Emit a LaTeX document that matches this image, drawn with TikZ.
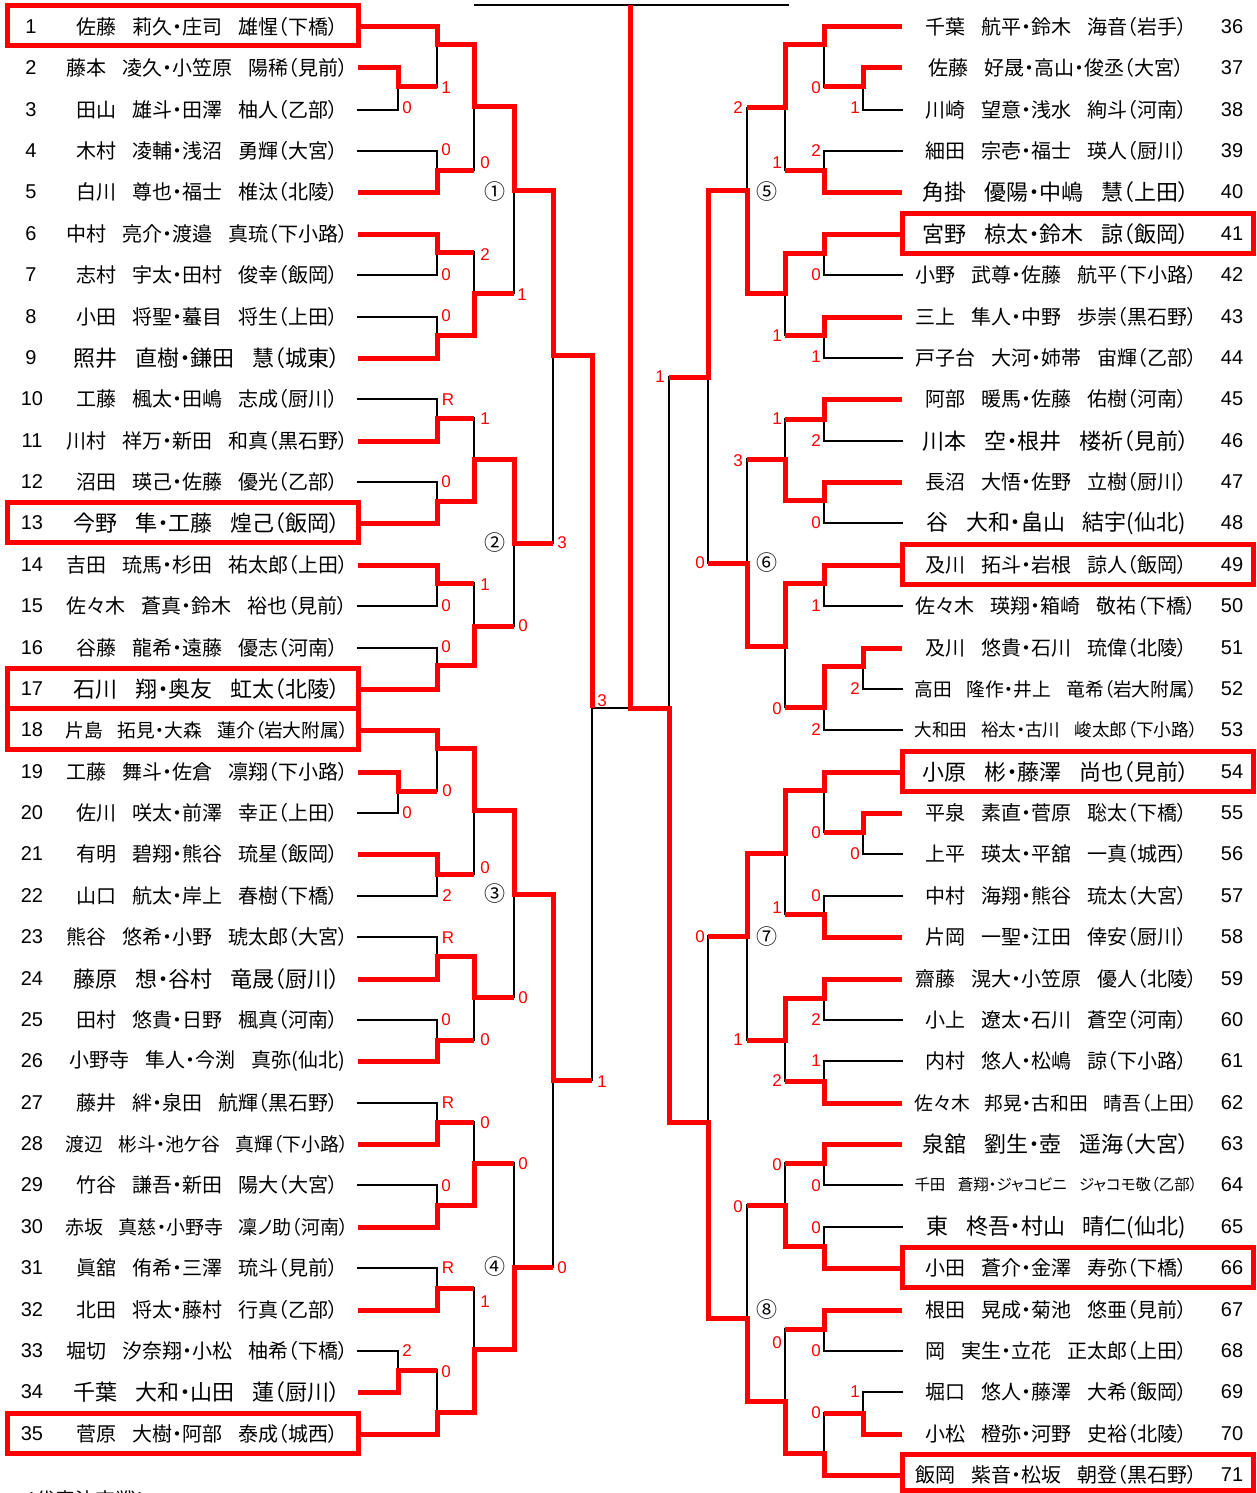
\documentclass[tikz,border=0pt]{standalone}
\usepackage{fontspec}
\usepackage{graphicx}
\usepackage{tikz}
\newfontfamily\jp[RawFeature=+palt]{Noto Sans CJK JP}
\newfontfamily\numfont{Liberation Sans}
\begingroup\lccode`\~="3000\lowercase{\endgroup\def~{\hspace{0.8em}}}
\catcode"3000=\active
\newsavebox\pairbox
\newcommand\fitpair[1]{\sbox\pairbox{#1}%
  \ifdim\wd\pairbox>285pt\resizebox{283pt}{!}{\usebox\pairbox}%
  \else\ifdim\wd\pairbox<250pt\scalebox{1.1}{\usebox\pairbox}%
  \else\usebox\pairbox\fi\fi}
\begin{document}
\begin{tikzpicture}[x=1pt,y=-1pt,
  won/.style={red,line width=5pt},
  lost/.style={black,line width=2.6pt,line cap=rect},
  seedbox/.style={red,line width=5pt},
  pair/.style={font=\jp\fontsize{20}{24}\selectfont,inner sep=0pt},
  num/.style={font=\numfont\fontsize{20}{24}\selectfont,inner sep=0pt},
  score/.style={text=red,font=\numfont\fontsize{17}{20}\selectfont,inner sep=0pt},
  block/.style={font=\jp\fontsize{21}{24}\selectfont,inner sep=0pt}]
\useasboundingbox (0,0) rectangle (1257,1493);
% black lines
\draw[lost] (475,5) -- (788,5);
\draw[lost] (398,68) -- (398,110) (398,772) -- (398,813) (398,1351) -- (398,1392);
\draw[lost] (437,27) -- (437,87) (437,151) -- (437,192) (437,234) -- (437,275) (437,317) -- (437,358)
  (437,399) -- (437,441) (437,482) -- (437,523) (437,565) -- (437,606) (437,648) -- (437,689)
  (437,730) -- (437,791) (437,854) -- (437,896) (437,937) -- (437,979) (437,1020) -- (437,1061)
  (437,1103) -- (437,1144) (437,1185) -- (437,1227) (437,1268) -- (437,1310) (437,1370) -- (437,1434);
\draw[lost] (474,45) -- (474,170) (474,252) -- (474,335) (474,418) -- (474,501) (474,583) -- (474,665)
  (474,748) -- (474,874) (474,956) -- (474,1040) (474,1122) -- (474,1205) (474,1288) -- (474,1412);
\draw[lost] (514,107) -- (514,293) (514,459) -- (514,626) (514,810) -- (514,997) (514,1163) -- (514,1349);
\draw[lost] (553,190) -- (553,543) (553,894) -- (553,1267);
\draw[lost] (592,355) -- (592,1080) (592,708) -- (630,708);
\draw[lost] (863,68) -- (863,110) (863,648) -- (863,689) (863,813) -- (863,854) (863,1392) -- (863,1434);
\draw[lost] (824,27) -- (824,87) (824,151) -- (824,192) (824,234) -- (824,275) (824,317) -- (824,358)
  (824,399) -- (824,441) (824,482) -- (824,523) (824,565) -- (824,606) (824,666) -- (824,730)
  (824,772) -- (824,832) (824,896) -- (824,937) (824,979) -- (824,1020) (824,1061) -- (824,1103)
  (824,1144) -- (824,1185) (824,1227) -- (824,1268) (824,1310) -- (824,1351) (824,1413) -- (824,1475);
\draw[lost] (785,45) -- (785,170) (785,253) -- (785,335) (785,419) -- (785,500) (785,583) -- (785,707)
  (785,790) -- (785,914) (785,998) -- (785,1081) (785,1163) -- (785,1246) (785,1329) -- (785,1453);
\draw[lost] (747,108) -- (747,293) (747,459) -- (747,646) (747,853) -- (747,1040) (747,1205) -- (747,1401);
\draw[lost] (708,190) -- (708,563) (708,936) -- (708,1318);
\draw[lost] (669,377) -- (669,1122);
\draw[lost] (358,110) -- (398,110) (358,151) -- (437,151) (358,275) -- (437,275) (358,317) -- (437,317)
  (358,399) -- (437,399) (358,482) -- (437,482) (358,606) -- (437,606) (358,648) -- (437,648)
  (358,813) -- (398,813) (358,896) -- (437,896) (358,937) -- (437,937) (358,1020) -- (437,1020)
  (358,1103) -- (437,1103) (358,1185) -- (437,1185) (358,1268) -- (437,1268) (358,1351) -- (398,1351);
\draw[lost] (902,110) -- (863,110) (902,151) -- (824,151) (902,275) -- (824,275) (902,358) -- (824,358)
  (902,441) -- (824,441) (902,523) -- (824,523) (902,606) -- (824,606) (902,689) -- (863,689)
  (902,730) -- (824,730) (902,854) -- (863,854) (902,896) -- (824,896) (902,1020) -- (824,1020)
  (902,1061) -- (824,1061) (902,1185) -- (824,1185) (902,1227) -- (824,1227) (902,1351) -- (824,1351)
  (902,1392) -- (863,1392);
% winners
\draw[won] (358,27) -| (437,45) -| (474,107) -| (514,190) -| (553,355) -| (592,708);
\draw[won] (358,68) -| (398,87) -- (437,87);
\draw[won] (358,192) -| (437,170) -- (474,170);
\draw[won] (358,234) -| (437,252) -- (474,252);
\draw[won] (358,358) -| (437,335) -| (474,293) -- (514,293);
\draw[won] (358,441) -| (437,418) -- (474,418);
\draw[won] (358,523) -| (437,501) -| (474,459) -| (514,543) -- (553,543);
\draw[won] (358,565) -| (437,583) -- (474,583);
\draw[won] (358,689) -| (437,665) -| (474,626) -- (514,626);
\draw[won] (358,730) -| (437,748) -| (474,810) -| (514,894) -| (553,1080) -- (592,1080);
\draw[won] (358,772) -| (398,791) -- (437,791);
\draw[won] (358,854) -| (437,874) -- (474,874);
\draw[won] (358,979) -| (437,956) -| (474,997) -- (514,997);
\draw[won] (358,1061) -| (437,1040) -- (474,1040);
\draw[won] (358,1144) -| (437,1122) -- (474,1122);
\draw[won] (358,1227) -| (437,1205) -| (474,1163) -- (514,1163);
\draw[won] (358,1310) -| (437,1288) -- (474,1288);
\draw[won] (358,1392) -| (398,1370) -- (437,1370);
\draw[won] (358,1434) -| (437,1412) -| (474,1349) -| (514,1267) -- (553,1267);
\draw[won] (902,27) -| (824,45) -| (785,108) -- (747,108);
\draw[won] (902,68) -| (863,87) -- (824,87);
\draw[won] (902,192) -| (824,170) -- (785,170);
\draw[won] (902,234) -| (824,253) -| (785,293) -| (747,190) -| (708,377) -- (669,377);
\draw[won] (902,317) -| (824,335) -- (785,335);
\draw[won] (902,399) -| (824,419) -- (785,419);
\draw[won] (902,482) -| (824,500) -| (785,459) -- (747,459);
\draw[won] (902,565) -| (824,583) -| (785,646) -| (747,563) -- (708,563);
\draw[won] (902,648) -| (863,666) -| (824,707) -- (785,707);
\draw[won] (902,772) -| (824,790) -| (785,853) -| (747,936) -- (708,936);
\draw[won] (902,813) -| (863,832) -- (824,832);
\draw[won] (902,937) -| (824,914) -- (785,914);
\draw[won] (902,979) -| (824,998) -| (785,1040) -- (747,1040);
\draw[won] (902,1103) -| (824,1081) -- (785,1081);
\draw[won] (902,1144) -| (824,1163) -- (785,1163);
\draw[won] (902,1268) -| (824,1246) -| (785,1205) -- (747,1205);
\draw[won] (902,1310) -| (824,1329) -- (785,1329);
\draw[won] (902,1434) -| (863,1413) -- (824,1413);
\draw[won] (902,1475) -| (824,1453) -| (785,1401) -| (747,1318) -| (708,1122) -| (669,708) -| (630,5);
% seeds
\draw[seedbox] (7,6) rectangle (358,46);
\draw[seedbox] (7,502) rectangle (358,542);
\draw[seedbox] (7,668) rectangle (358,708);
\draw[seedbox] (7,708) rectangle (358,749);
\draw[seedbox] (7,1413) rectangle (358,1453);
\draw[seedbox] (902,213) rectangle (1253,253);
\draw[seedbox] (902,544) rectangle (1253,584);
\draw[seedbox] (902,751) rectangle (1253,791);
\draw[seedbox] (902,1247) rectangle (1253,1287);
\draw[seedbox] (902,1454) rectangle (1253,1490);
% left entries
\node (k1) [num] at (31,27) {1};
\node (k2) [num] at (31,68) {2};
\node (k3) [num] at (31,110) {3};
\node (k4) [num] at (31,151) {4};
\node (k5) [num] at (31,192) {5};
\node (k6) [num] at (31,234) {6};
\node (k7) [num] at (31,275) {7};
\node (k8) [num] at (31,317) {8};
\node (k9) [num] at (31,358) {9};
\node (k10) [num] at (32,399) {10};
\node (k11) [num] at (32,441) {11};
\node (k12) [num] at (32,482) {12};
\node (k13) [num] at (32,523) {13};
\node (k14) [num] at (32,565) {14};
\node (k15) [num] at (32,606) {15};
\node (k16) [num] at (32,648) {16};
\node (k17) [num] at (32,689) {17};
\node (k18) [num] at (32,730) {18};
\node (k19) [num] at (32,772) {19};
\node (k20) [num] at (32,813) {20};
\node (k21) [num] at (32,854) {21};
\node (k22) [num] at (32,896) {22};
\node (k23) [num] at (32,937) {23};
\node (k24) [num] at (32,979) {24};
\node (k25) [num] at (32,1020) {25};
\node (k26) [num] at (32,1061) {26};
\node (k27) [num] at (32,1103) {27};
\node (k28) [num] at (32,1144) {28};
\node (k29) [num] at (32,1185) {29};
\node (k30) [num] at (32,1227) {30};
\node (k31) [num] at (32,1268) {31};
\node (k32) [num] at (32,1310) {32};
\node (k33) [num] at (32,1351) {33};
\node (k34) [num] at (32,1392) {34};
\node (k35) [num] at (32,1434) {35};
\node (p1) [pair] at (207,27) {\fitpair{佐藤　莉久・庄司　雄惺（下橋）}};
\node (p2) [pair] at (207,68) {\fitpair{藤本　凌久・小笠原　陽稀（見前）}};
\node (p3) [pair] at (207,110) {\fitpair{田山　雄斗・田澤　柚人（乙部）}};
\node (p4) [pair] at (207,151) {\fitpair{木村　凌輔・浅沼　勇輝（大宮）}};
\node (p5) [pair] at (207,192) {\fitpair{白川　尊也・福士　椎汰（北陵）}};
\node (p6) [pair] at (207,234) {\fitpair{中村　亮介・渡邉　真琉（下小路）}};
\node (p7) [pair] at (207,275) {\fitpair{志村　宇太・田村　俊幸（飯岡）}};
\node (p8) [pair] at (207,317) {\fitpair{小田　将聖・蟇目　将生（上田）}};
\node (p9) [pair] at (207,358) {\fitpair{照井　直樹・鎌田　慧（城東）}};
\node (p10) [pair] at (207,399) {\fitpair{工藤　楓太・田嶋　志成（厨川）}};
\node (p11) [pair] at (207,441) {\fitpair{川村　祥万・新田　和真（黒石野）}};
\node (p12) [pair] at (207,482) {\fitpair{沼田　瑛己・佐藤　優光（乙部）}};
\node (p13) [pair] at (207,523) {\fitpair{今野　隼・工藤　煌己（飯岡）}};
\node (p14) [pair] at (207,565) {\fitpair{吉田　琉馬・杉田　祐太郎（上田）}};
\node (p15) [pair] at (207,606) {\fitpair{佐々木　蒼真・鈴木　裕也（見前）}};
\node (p16) [pair] at (207,648) {\fitpair{谷藤　龍希・遠藤　優志（河南）}};
\node (p17) [pair] at (207,689) {\fitpair{石川　翔・奥友　虹太（北陵）}};
\node (p18) [pair] at (207,730) {\fitpair{片島　拓見・大森　蓮介（岩大附属）}};
\node (p19) [pair] at (207,772) {\fitpair{工藤　舞斗・佐倉　凛翔（下小路）}};
\node (p20) [pair] at (207,813) {\fitpair{佐川　咲太・前澤　幸正（上田）}};
\node (p21) [pair] at (207,854) {\fitpair{有明　碧翔・熊谷　琉星（飯岡）}};
\node (p22) [pair] at (207,896) {\fitpair{山口　航太・岸上　春樹（下橋）}};
\node (p23) [pair] at (207,937) {\fitpair{熊谷　悠希・小野　琥太郎（大宮）}};
\node (p24) [pair] at (207,979) {\fitpair{藤原　想・谷村　竜晟（厨川）}};
\node (p25) [pair] at (207,1020) {\fitpair{田村　悠貴・日野　楓真（河南）}};
\node (p26) [pair] at (207,1061) {\fitpair{小野寺　隼人・今渕　真弥(仙北)}};
\node (p27) [pair] at (207,1103) {\fitpair{藤井　絆・泉田　航輝（黒石野）}};
\node (p28) [pair] at (207,1144) {\fitpair{渡辺　彬斗・池ケ谷　真輝（下小路）}};
\node (p29) [pair] at (207,1185) {\fitpair{竹谷　謙吾・新田　陽大（大宮）}};
\node (p30) [pair] at (207,1227) {\fitpair{赤坂　真慈・小野寺　凜ノ助（河南）}};
\node (p31) [pair] at (207,1268) {\fitpair{眞舘　侑希・三澤　琉斗（見前）}};
\node (p32) [pair] at (207,1310) {\fitpair{北田　将太・藤村　行真（乙部）}};
\node (p33) [pair] at (207,1351) {\fitpair{堀切　汐奈翔・小松　柚希（下橋）}};
\node (p34) [pair] at (207,1392) {\fitpair{千葉　大和・山田　蓮（厨川）}};
\node (p35) [pair] at (207,1434) {\fitpair{菅原　大樹・阿部　泰成（城西）}};
% right entries
\node (k36) [num] at (1232,27) {36};
\node (k37) [num] at (1232,68) {37};
\node (k38) [num] at (1232,110) {38};
\node (k39) [num] at (1232,151) {39};
\node (k40) [num] at (1232,192) {40};
\node (k41) [num] at (1232,234) {41};
\node (k42) [num] at (1232,275) {42};
\node (k43) [num] at (1232,317) {43};
\node (k44) [num] at (1232,358) {44};
\node (k45) [num] at (1232,399) {45};
\node (k46) [num] at (1232,441) {46};
\node (k47) [num] at (1232,482) {47};
\node (k48) [num] at (1232,523) {48};
\node (k49) [num] at (1232,565) {49};
\node (k50) [num] at (1232,606) {50};
\node (k51) [num] at (1232,648) {51};
\node (k52) [num] at (1232,689) {52};
\node (k53) [num] at (1232,730) {53};
\node (k54) [num] at (1232,772) {54};
\node (k55) [num] at (1232,813) {55};
\node (k56) [num] at (1232,854) {56};
\node (k57) [num] at (1232,896) {57};
\node (k58) [num] at (1232,937) {58};
\node (k59) [num] at (1232,979) {59};
\node (k60) [num] at (1232,1020) {60};
\node (k61) [num] at (1232,1061) {61};
\node (k62) [num] at (1232,1103) {62};
\node (k63) [num] at (1232,1144) {63};
\node (k64) [num] at (1232,1185) {64};
\node (k65) [num] at (1232,1227) {65};
\node (k66) [num] at (1232,1268) {66};
\node (k67) [num] at (1232,1310) {67};
\node (k68) [num] at (1232,1351) {68};
\node (k69) [num] at (1232,1392) {69};
\node (k70) [num] at (1232,1434) {70};
\node (k71) [num] at (1232,1475) {71};
\node (p36) [pair] at (1056,27) {\fitpair{千葉　航平・鈴木　海音（岩手）}};
\node (p37) [pair] at (1056,68) {\fitpair{佐藤　好晟・高山・俊丞（大宮）}};
\node (p38) [pair] at (1056,110) {\fitpair{川崎　望意・浅水　絢斗（河南）}};
\node (p39) [pair] at (1056,151) {\fitpair{細田　宗壱・福士　瑛人（厨川）}};
\node (p40) [pair] at (1056,192) {\fitpair{角掛　優陽・中嶋　慧（上田）}};
\node (p41) [pair] at (1056,234) {\fitpair{宮野　椋太・鈴木　諒（飯岡）}};
\node (p42) [pair] at (1056,275) {\fitpair{小野　武尊・佐藤　航平（下小路）}};
\node (p43) [pair] at (1056,317) {\fitpair{三上　隼人・中野　歩崇（黒石野）}};
\node (p44) [pair] at (1056,358) {\fitpair{戸子台　大河・姉帯　宙輝（乙部）}};
\node (p45) [pair] at (1056,399) {\fitpair{阿部　暖馬・佐藤　佑樹（河南）}};
\node (p46) [pair] at (1056,441) {\fitpair{川本　空・根井　楼祈（見前）}};
\node (p47) [pair] at (1056,482) {\fitpair{長沼　大悟・佐野　立樹（厨川）}};
\node (p48) [pair] at (1056,523) {\fitpair{谷　大和・畠山　結宇(仙北)}};
\node (p49) [pair] at (1056,565) {\fitpair{及川　拓斗・岩根　諒人（飯岡）}};
\node (p50) [pair] at (1056,606) {\fitpair{佐々木　瑛翔・箱崎　敬祐（下橋）}};
\node (p51) [pair] at (1056,648) {\fitpair{及川　悠貴・石川　琉偉（北陵）}};
\node (p52) [pair] at (1056,689) {\fitpair{高田　隆作・井上　竜希（岩大附属）}};
\node (p53) [pair] at (1056,730) {\fitpair{大和田　裕太・古川　峻太郎（下小路）}};
\node (p54) [pair] at (1056,772) {\fitpair{小原　彬・藤澤　尚也（見前）}};
\node (p55) [pair] at (1056,813) {\fitpair{平泉　素直・菅原　聡太（下橋）}};
\node (p56) [pair] at (1056,854) {\fitpair{上平　瑛太・平舘　一真（城西）}};
\node (p57) [pair] at (1056,896) {\fitpair{中村　海翔・熊谷　琉太（大宮）}};
\node (p58) [pair] at (1056,937) {\fitpair{片岡　一聖・江田　倖安（厨川）}};
\node (p59) [pair] at (1056,979) {\fitpair{齋藤　滉大・小笠原　優人（北陵）}};
\node (p60) [pair] at (1056,1020) {\fitpair{小上　遼太・石川　蒼空（河南）}};
\node (p61) [pair] at (1056,1061) {\fitpair{内村　悠人・松嶋　諒（下小路）}};
\node (p62) [pair] at (1056,1103) {\fitpair{佐々木　邦晃・古和田　晴吾（上田）}};
\node (p63) [pair] at (1056,1144) {\fitpair{泉舘　劉生・壺　遥海（大宮）}};
\node (p64) [pair] at (1056,1185) {\fitpair{千田　蒼翔・ジャコビニ　ジャコモ敬（乙部）}};
\node (p65) [pair] at (1056,1227) {\fitpair{東　柊吾・村山　晴仁(仙北)}};
\node (p66) [pair] at (1056,1268) {\fitpair{小田　蒼介・金澤　寿弥（下橋）}};
\node (p67) [pair] at (1056,1310) {\fitpair{根田　晃成・菊池　悠亜（見前）}};
\node (p68) [pair] at (1056,1351) {\fitpair{岡　実生・立花　正太郎（上田）}};
\node (p69) [pair] at (1056,1392) {\fitpair{堀口　悠人・藤澤　大希（飯岡）}};
\node (p70) [pair] at (1056,1434) {\fitpair{小松　橙弥・河野　史裕（北陵）}};
\node (p71) [pair] at (1056,1475) {\fitpair{飯岡　紫音・松坂　朝登（黒石野）}};
% blocks
\node (b1) [block] at (495,192) {①};
\node (b2) [block] at (495,543) {②};
\node (b3) [block] at (495,894) {③};
\node (b4) [block] at (495,1267) {④};
\node (b5) [block] at (767,192) {⑤};
\node (b6) [block] at (767,563) {⑥};
\node (b7) [block] at (767,937) {⑦};
\node (b8) [block] at (767,1310) {⑧};
% scores
\node (s1) [score] at (407,108) {0};
\node (s2) [score] at (446,88) {1};
\node (s3) [score] at (446,150) {0};
\node (s4) [score] at (485,163) {0};
\node (s5) [score] at (485,255) {2};
\node (s6) [score] at (446,275) {0};
\node (s7) [score] at (522,295) {1};
\node (s8) [score] at (446,316) {0};
\node (s9) [score] at (448,400) {R};
\node (s10) [score] at (485,419) {1};
\node (s11) [score] at (446,482) {0};
\node (s12) [score] at (485,585) {1};
\node (s13) [score] at (446,606) {0};
\node (s14) [score] at (446,647) {0};
\node (s15) [score] at (523,626) {0};
\node (s16) [score] at (562,543) {3};
\node (s17) [score] at (447,791) {0};
\node (s18) [score] at (407,813) {0};
\node (s19) [score] at (485,868) {0};
\node (s20) [score] at (447,896) {2};
\node (s21) [score] at (448,938) {R};
\node (s22) [score] at (523,998) {0};
\node (s23) [score] at (446,1020) {0};
\node (s24) [score] at (485,1040) {0};
\node (s25) [score] at (448,1103) {R};
\node (s26) [score] at (485,1123) {0};
\node (s27) [score] at (446,1186) {0};
\node (s28) [score] at (523,1164) {0};
\node (s29) [score] at (448,1268) {R};
\node (s30) [score] at (485,1302) {1};
\node (s31) [score] at (407,1351) {2};
\node (s32) [score] at (446,1372) {0};
\node (s33) [score] at (562,1268) {0};
\node (s34) [score] at (602,1082) {1};
\node (s35) [score] at (602,701) {3};
\node (s36) [score] at (816,88) {0};
\node (s37) [score] at (855,108) {1};
\node (s38) [score] at (738,108) {2};
\node (s39) [score] at (816,151) {2};
\node (s40) [score] at (777,163) {1};
\node (s41) [score] at (816,275) {0};
\node (s42) [score] at (777,336) {1};
\node (s43) [score] at (816,357) {1};
\node (s44) [score] at (660,377) {1};
\node (s45) [score] at (777,419) {1};
\node (s46) [score] at (816,441) {2};
\node (s47) [score] at (738,461) {3};
\node (s48) [score] at (816,523) {0};
\node (s49) [score] at (700,563) {0};
\node (s50) [score] at (816,606) {1};
\node (s51) [score] at (855,689) {2};
\node (s52) [score] at (777,709) {0};
\node (s53) [score] at (816,730) {2};
\node (s54) [score] at (816,833) {0};
\node (s55) [score] at (855,854) {0};
\node (s56) [score] at (816,896) {0};
\node (s57) [score] at (777,908) {1};
\node (s58) [score] at (700,937) {0};
\node (s59) [score] at (816,1020) {2};
\node (s60) [score] at (738,1040) {1};
\node (s61) [score] at (816,1061) {1};
\node (s62) [score] at (777,1081) {2};
\node (s63) [score] at (777,1165) {0};
\node (s64) [score] at (816,1186) {0};
\node (s65) [score] at (738,1207) {0};
\node (s66) [score] at (816,1228) {0};
\node (s67) [score] at (777,1343) {0};
\node (s68) [score] at (816,1351) {0};
\node (s69) [score] at (855,1392) {1};
\node (s70) [score] at (816,1413) {0};
\node (title) [pair] at (86,1500) {＜代表決定戦＞};
\end{tikzpicture}
\end{document}
